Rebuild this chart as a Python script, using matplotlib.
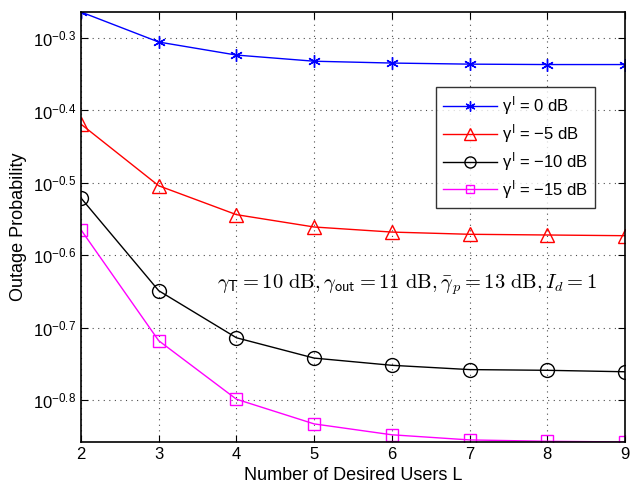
import numpy as np
import matplotlib
matplotlib.use("Agg")
import matplotlib.pyplot as plt
from matplotlib.ticker import FixedLocator, FixedFormatter, NullLocator

plt.rcParams['font.family'] = ['Liberation Sans', 'DejaVu Sans']
plt.rcParams['mathtext.fontset'] = 'custom'
plt.rcParams['mathtext.rm'] = 'Liberation Sans'
plt.rcParams['mathtext.it'] = 'Liberation Sans'
plt.rcParams['mathtext.bf'] = 'Liberation Sans:bold'

L = [2, 3, 4, 5, 6, 7, 8, 9]
p_0dB = [0.5445, 0.4949, 0.4748, 0.4656, 0.4629, 0.4613, 0.4607, 0.4607]
p_m5dB = [0.3811, 0.3133, 0.2858, 0.2748, 0.2704, 0.2685, 0.2679, 0.2673]
p_m10dB = [0.3013, 0.2244, 0.1932, 0.1811, 0.1770, 0.1746, 0.1742, 0.1734]
p_m15dB = [0.2723, 0.1914, 0.1589, 0.1469, 0.1419, 0.1396, 0.1390, 0.1387]
labels = [r'$\gamma^{I}$ = 0 dB', r'$\gamma^{I}$ = −5 dB', r'$\gamma^{I}$ = −10 dB', r'$\gamma^{I}$ = −15 dB']
ytick_exps = [-0.3, -0.4, -0.5, -0.6, -0.7, -0.8]

fig = plt.figure(figsize=(6.3, 4.92), dpi=100)
ax = fig.add_axes([0.1286, 0.1016, 0.8634, 0.874])
ax.set_yscale('log')

ax.plot(L, p_0dB, color='blue', marker=(6, 2, 0), ms=9, mew=1.0, lw=1, label=labels[0])
ax.plot(L, p_m5dB, color='red', marker='^', ms=10, mfc='none', lw=1, label=labels[1])
ax.plot(L, p_m10dB, color='black', marker='o', ms=10, mfc='none', lw=1, label=labels[2])
ax.plot(L, p_m15dB, color='magenta', marker='s', ms=8, mfc='none', lw=1, label=labels[3])

ax.set_xlim(2, 9)
ax.set_ylim(10**-0.858, 10**-0.264)
ax.set_xticks(L)
ax.yaxis.set_major_locator(FixedLocator([10**e for e in ytick_exps]))
ax.yaxis.set_major_formatter(FixedFormatter([r'$10^{%s}$' % ('−' + str(abs(e))) for e in ytick_exps]))
ax.yaxis.set_minor_locator(NullLocator())
ax.tick_params(direction='in', top=True, right=True, labelsize=12, length=5, width=0.8)
for s in ax.spines.values():
    s.set_linewidth(1.2)
ax.grid(True, which='major', linestyle=(0, (1, 4)), color='black', lw=0.8, alpha=0.7)

ax.set_xlabel('Number of Desired Users L', fontsize=13)
ax.set_ylabel('Outage Probability', fontsize=13)

leg = ax.legend(loc='upper right', bbox_to_anchor=(0.945, 0.826), fontsize=12,
                frameon=True, fancybox=False, edgecolor='black', handlelength=3.2,
                borderpad=0.45, labelspacing=0.3, markerscale=0.8, borderaxespad=0,
                handletextpad=0.3)
leg.get_frame().set_linewidth(1.0)

ax.text(0.25, 0.367, r'$\gamma_{\mathsf{T}} = 10\ \mathrm{dB}, \gamma_{\mathsf{out}} = 11\ \mathrm{dB}, \bar{\gamma}_p = 13\ \mathrm{dB}, I_d = 1$',
        transform=ax.transAxes, fontsize=14.8, math_fontfamily='cm', va='center', ha='left')

fig.savefig('out.png', dpi=100)
